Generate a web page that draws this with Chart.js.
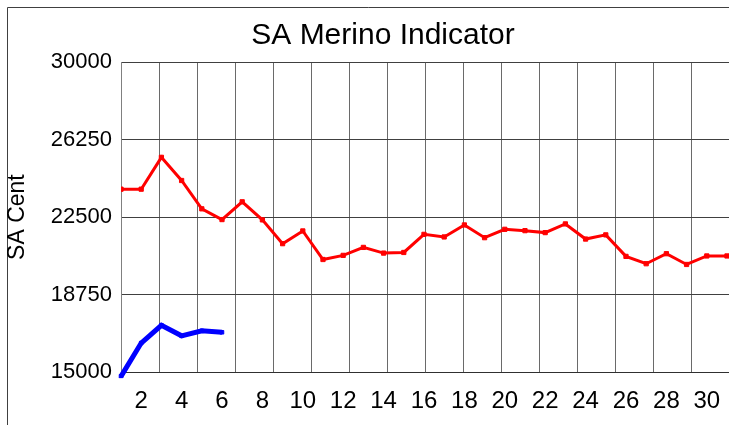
<!DOCTYPE html>
<html>
<head>
<meta charset="utf-8">
<script src="https://cdn.jsdelivr.net/npm/chart.js@4/dist/chart.umd.min.js"></script>
<style>
html,body{margin:0;padding:0;background:#fff;}
#wrap{width:729px;height:425px;position:relative;}
</style>
</head>
<body>
<div id="wrap"><canvas id="c" width="729" height="425"></canvas></div>
<script>
// ---- data ----
const chartTitle = 'SA Merino Indicator';
const yAxisTitle = 'SA Cent';
const days = [1,2,3,4,5,6,7,8,9,10,11,12,13,14,15,16,17,18,19,20,21,22,23,24,25,26,27,28,29,30,31];
const redSeries = [23850,23850,25390,24270,22900,22380,23240,22365,21215,21830,20450,20650,21035,20760,20790,21665,21540,22120,21505,21910,21845,21750,22170,21440,21640,20600,20245,20730,20210,20620,20620];
const blueSeries = [14800,16410,17270,16760,17000,16930];
const xTickLabels = [2,4,6,8,10,12,14,16,18,20,22,24,26,28,30];
const yTickValues = [15000,18750,22500,26250,30000];

// ---- chart config ----
const X_MIN = 1, X_MAX = 31.1, GRID_DIVS = 16;
Chart.defaults.font.family = "'Liberation Sans', Arial, sans-serif";

const framePlugin = {
  id: 'frame',
  beforeDraw(chart) {
    const ctx = chart.ctx;
    ctx.save();
    ctx.fillStyle = '#ffffff';
    ctx.fillRect(0, 0, chart.width, chart.height);
    ctx.strokeStyle = '#404040';
    ctx.lineWidth = 1;
    ctx.beginPath();
    ctx.moveTo(7.5, chart.height);
    ctx.lineTo(7.5, 7.5);
    ctx.lineTo(chart.width, 7.5);
    ctx.stroke();
    ctx.restore();
  }
};
const titleShift = {
  id: 'titleShift',
  afterLayout(chart) {
    const t = chart.titleBlock;
    if (t) { t.left = 37; t.right = chart.width; }
  }
};

new Chart(document.getElementById('c'), {
  type: 'line',
  data: {
    datasets: [
      {
        label: 'Red',
        data: days.map((d, i) => ({x: d, y: redSeries[i]})),
        borderColor: '#ff0000',
        backgroundColor: '#ff0000',
        borderWidth: 3,
        pointStyle: 'rect',
        pointRadius: 3,
        pointBorderWidth: 1,
        tension: 0,
        xAxisID: 'x', yAxisID: 'y'
      },
      {
        label: 'Blue',
        data: blueSeries.map((v, i) => ({x: days[i], y: v})),
        borderColor: '#0000ff',
        backgroundColor: '#0000ff',
        borderWidth: 5,
        pointStyle: 'rect',
        pointRadius: 2.5,
        pointBorderWidth: 1,
        tension: 0,
        clip: 6,
        xAxisID: 'x', yAxisID: 'y'
      }
    ]
  },
  options: {
    responsive: false,
    animation: false,
    layout: {autoPadding: false, padding: {top: 0, left: 0, right: 0, bottom: -6}},
    plugins: {
      legend: {display: false},
      tooltip: {enabled: false},
      title: {
        display: true, text: chartTitle, color: '#000',
        font: {size: 30, weight: 'normal'},
        padding: {top: 17.5, bottom: 8.5}
      }
    },
    scales: {
      x: {
        type: 'linear', position: 'bottom', min: X_MIN, max: X_MAX,
        afterBuildTicks(s) {
          s.ticks = Array.from({length: GRID_DIVS}, (_, k) => ({value: X_MIN + k * (X_MAX - X_MIN) / GRID_DIVS}));
        },
        afterFit(s) { s.paddingLeft = 0; s.paddingRight = 0; },
        ticks: {display: false},
        grid: {color: '#6a6a6a', drawTicks: false},
        border: {color: '#303030'}
      },
      xl: {
        type: 'linear', position: 'bottom', min: X_MIN, max: X_MAX,
        afterBuildTicks(s) { s.ticks = xTickLabels.map(v => ({value: v})); },
        afterFit(s) { s.paddingLeft = 0; s.paddingRight = 0; },
        ticks: {padding: 15, font: {size: 24}, color: '#000', maxRotation: 0, autoSkip: false, callback: v => String(v)},
        grid: {display: false, drawTicks: false},
        border: {display: false}
      },
      y: {
        type: 'linear', min: 15000, max: 30000,
        afterBuildTicks(s) { s.ticks = yTickValues.map(v => ({value: v})); },
        afterFit(s) { s.width = 121; },
        ticks: {padding: 9, font: {size: 22}, color: '#000', callback: v => String(v)},
        grid: {color: '#404040', drawTicks: false},
        border: {color: '#808080'},
        title: {display: true, text: yAxisTitle, color: '#000', font: {size: 23}, padding: {top: 4, bottom: 0}}
      }
    }
  },
  plugins: [framePlugin, titleShift]
});
</script>
</body>
</html>
